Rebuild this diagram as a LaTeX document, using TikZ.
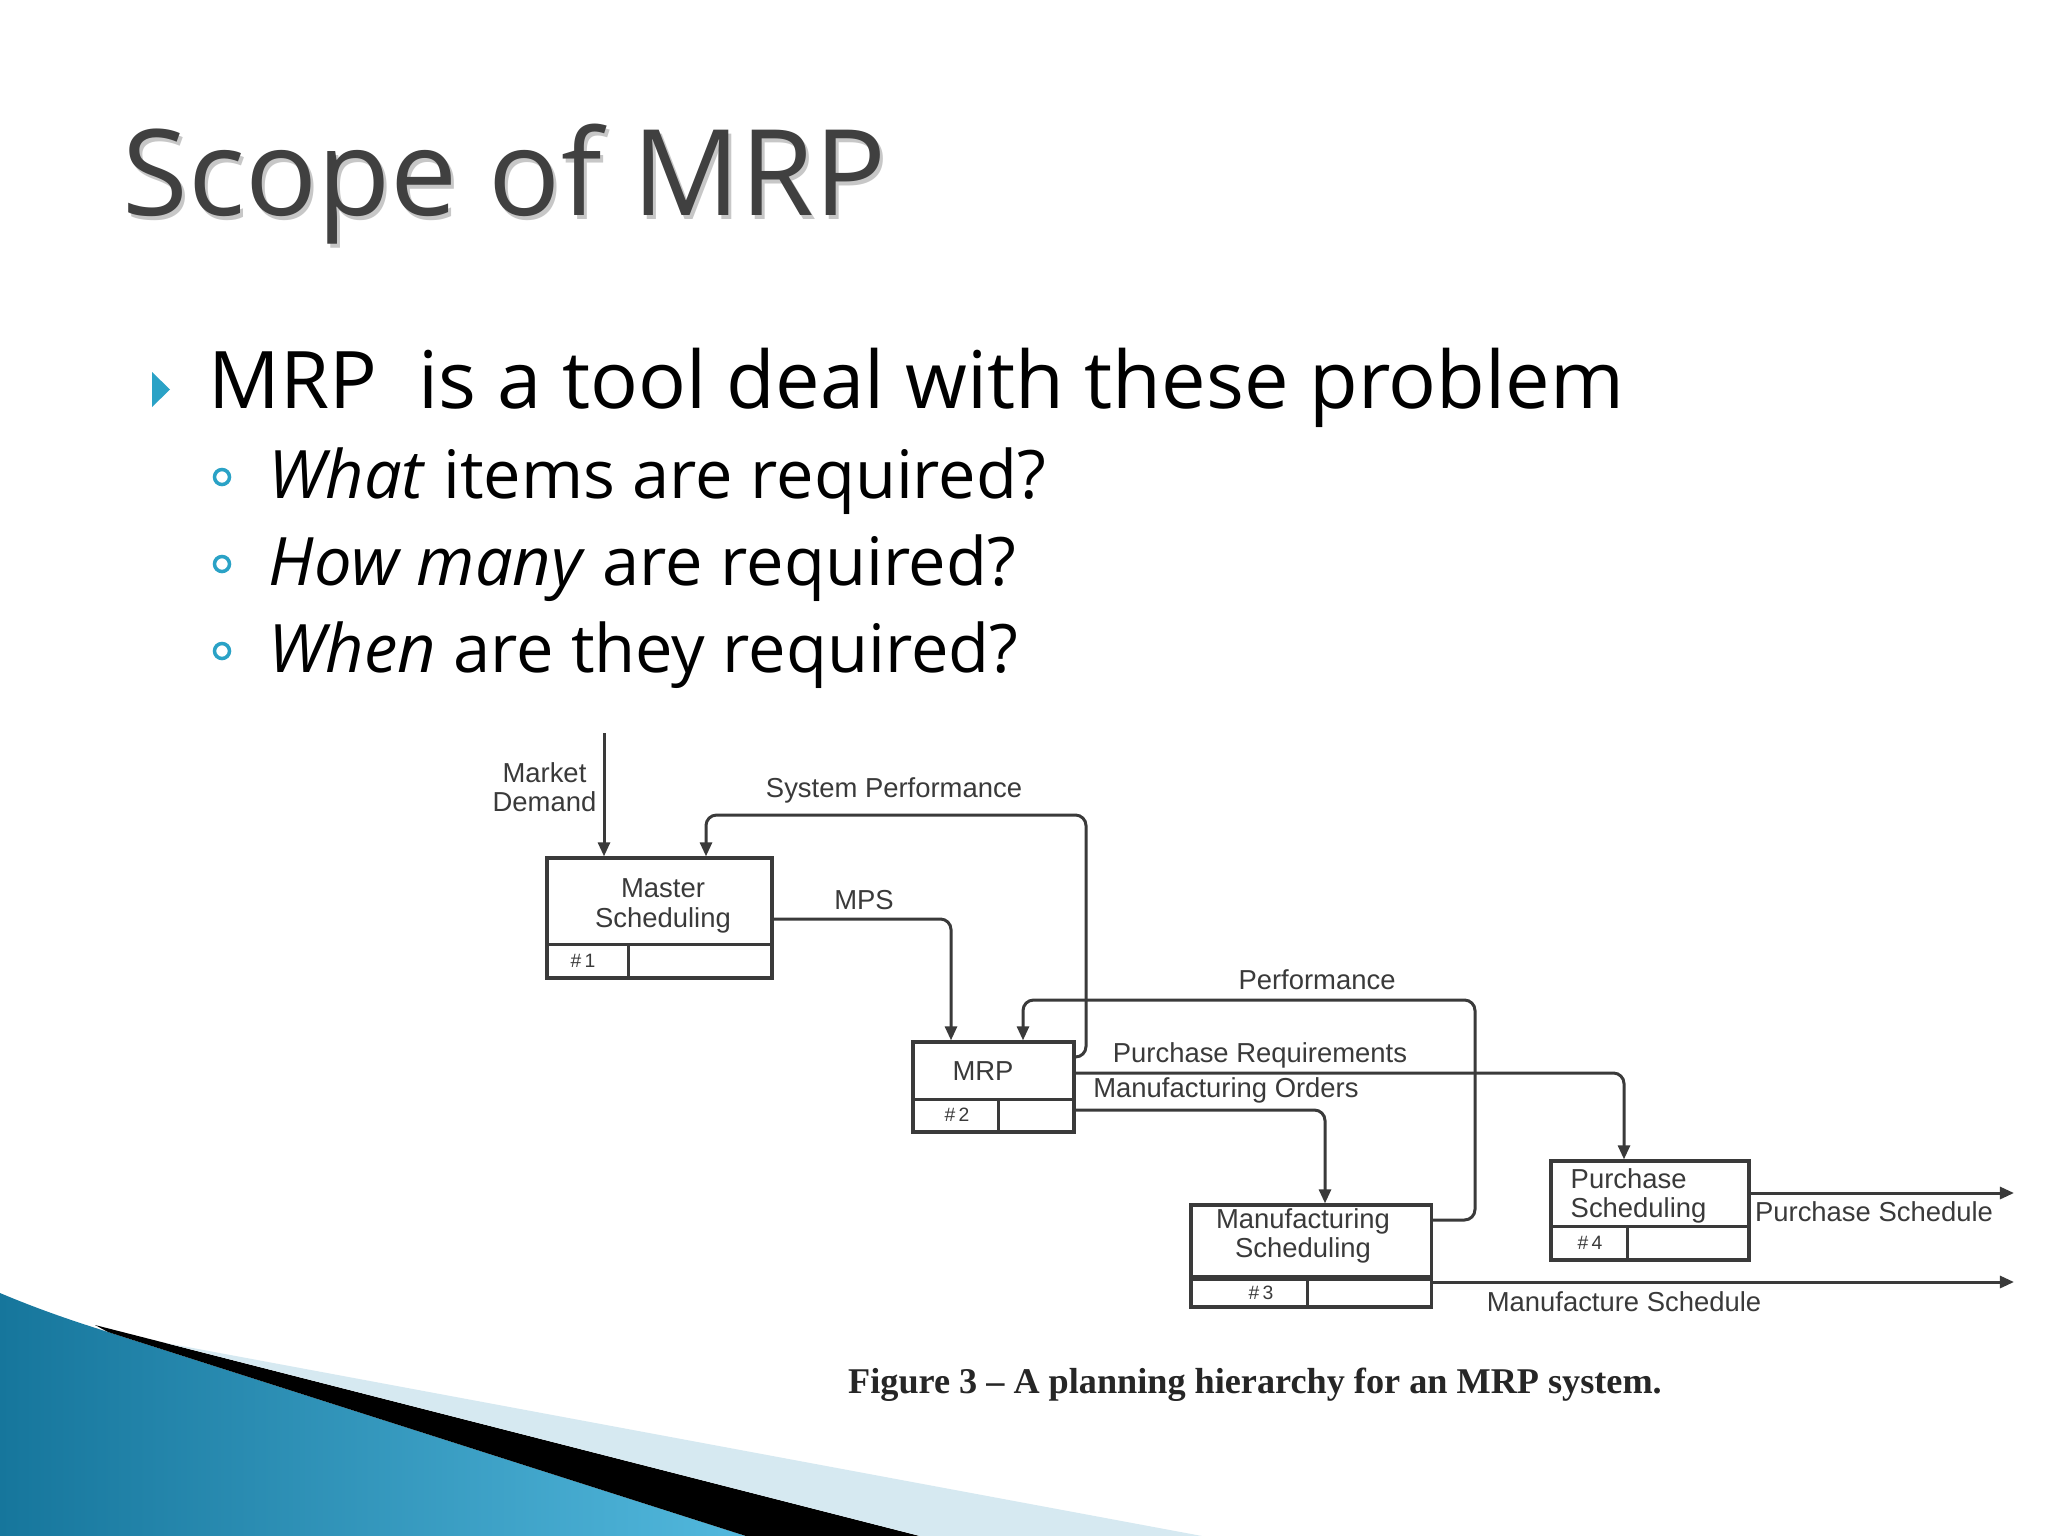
\documentclass[tikz,border=0pt]{standalone}
\usepackage{fontspec}
\setmainfont{Open Sans}
\newfontfamily\figfont{Liberation Sans}
\newfontfamily\capfont{Liberation Serif}
\usetikzlibrary{arrows.meta}
\definecolor{titlegray}{HTML}{404040}
\definecolor{bulletteal}{HTML}{2AA2C6}
\definecolor{linegray}{HTML}{3A3A3A}
\definecolor{tealdark}{HTML}{16769C}
\definecolor{teallight}{HTML}{52B8DD}
\definecolor{bandblue}{HTML}{D6E9F1}

\begin{document}
\begin{tikzpicture}[x=0.01cm,y=-0.01cm,
  box/.style={draw=linegray,line width=0.9pt,inner sep=0pt},
  lbl/.style={font=\figfont\fontsize{7.8}{8.4}\selectfont,text=linegray,inner sep=0pt},
  num/.style={font=\figfont\fontsize{5.5}{6}\selectfont,text=linegray,inner sep=0pt},
  flow/.style={draw=linegray,line width=0.85pt,rounded corners=3pt,-{Triangle[length=4pt,width=3.4pt]}},
  wire/.style={draw=linegray,line width=0.85pt}]
\useasboundingbox (0,0) rectangle (2048,1536);
\fill[white] (0,0) rectangle (2048,1536);

% corner decoration
\shade[left color=tealdark,right color=teallight] (0,1293) .. controls (45,1312) and (80,1323) .. (108,1332) -- (746,1536) -- (0,1536) -- cycle;
\fill[black] (95,1325) -- (920,1536) -- (746,1536) -- (108,1332) -- cycle;
\fill[bandblue] (166,1343) -- (1202,1536) -- (920,1536) -- cycle;

% title
\node[anchor=base west,inner sep=0pt,text=black!22,font=\fontsize{34}{40}\selectfont] at (125,219) {Scope of MRP};
\node[anchor=base west,inner sep=0pt,text=titlegray,font=\fontsize{34}{40}\selectfont] (title) at (122,215) {Scope of MRP};

% bullets
\fill[bulletteal] (152,372) -- (170,389.5) -- (152,407) -- cycle;
\node[anchor=base west,inner sep=0pt,font=\fontsize{22.6}{27}\selectfont] (main) at (208,408) {MRP\ \ is a tool deal with these problem};
\foreach \y/\txt [count=\i] in {498/{\textit{What} items are required?},585/{\textit{How many} are required?},672/{\textit{When} are they required?}}{
  \draw[bulletteal,line width=1pt] (222,\y-21) circle[radius=0.075cm];
  \node[anchor=base west,inner sep=0pt,font=\fontsize{19}{23}\selectfont] (q\i) at (268,\y) {\txt};
}

% boxes
\node[box,minimum width=2.25cm,minimum height=1.2cm] (ms) at (659.5,918) {};
\node[box,minimum width=1.61cm,minimum height=0.9cm] (mrp) at (993.5,1087) {};
\node[box,minimum width=2.4cm,minimum height=1.02cm] (mfs) at (1311,1256) {};
\node[box,minimum width=1.98cm,minimum height=0.99cm] (pus) at (1650,1210.5) {};
\foreach \b/\hy/\vx in {ms/944/628,mrp/1099/998,pus/1226/1627}{
  \draw[wire] (\b.west |- 0,\hy) -- (\b.east |- 0,\hy);
  \draw[wire] (\vx,\hy) -- (\b.south -| \vx,0);
}
\draw[draw=linegray,line width=1.5pt] (mfs.west |- 0,1278) -- (mfs.east |- 0,1278);
\draw[wire] (1307,1278) -- (mfs.south -| 1307,0);

\node[lbl,align=center] (mstxt) at (663,906) {Master\\Scheduling};
\node[lbl] (mrptxt) at (983,1071) {MRP};
\node[lbl,align=center] (mfstxt) at (1303,1236) {Manufacturing\\Scheduling};
\node[lbl,align=left,anchor=west] (pustxt) at (1570,1196) {Purchase\\Scheduling};
\node[num] (n1) at (583,961) {\#\,1};
\node[num] (n2) at (957,1115) {\#\,2};
\node[num] (n3) at (1261,1293) {\#\,3};
\node[num] (n4) at (1590,1243) {\#\,4};

% connectors
\coordinate (mdtop) at (604,733);
\draw[flow] (mdtop) -- (mdtop |- ms.north);
\node[lbl,align=center,anchor=east] (mdlbl) at (597,787) {Market\\Demand};

\coordinate (sp1) at (1086,815);
\coordinate (sp2) at (706,815);
\draw[flow] (mrp.east |- 0,1057) -| (sp1) -- (sp2) -- (sp2 |- ms.north);
\node[lbl] (splbl) at (894,790) {System Performance};

\draw[flow] (ms.east |- 0,919) -| (mrp.north -| 951,0);
\node[lbl] (mpslbl) at (864,900) {MPS};

\draw[flow] (mfs.east |- 0,1220) -| (1475,1000) -| (mrp.north -| 1023,0);
\node[lbl] (perflbl) at (1317,980) {Performance};

\draw[flow] (mrp.east |- 0,1073) -| (pus.north -| 1624,0);
\node[lbl] (prlbl) at (1260,1055) {Purchase Requirements};

\draw[flow] (mrp.east |- 0,1110) -| (mfs.north -| 1325,0);
\node[lbl] (molbl) at (1226,1090) {Manufacturing Orders};

\coordinate (psend) at (2014,1193);
\draw[flow] (pus.east |- psend) -- (psend);
\node[lbl] (pslbl) at (1874,1212) {Purchase Schedule};

\coordinate (msend) at (2014,1282);
\draw[flow] (mfs.east |- msend) -- (msend);
\node[lbl] (mslbl) at (1624,1302) {Manufacture Schedule};

\node[anchor=base,inner sep=0pt,text=black!85,font=\capfont\bfseries\fontsize{10.3}{12}\selectfont] (caption) at (1255,1393) {Figure 3 – A planning hierarchy for an MRP system.};
\end{tikzpicture}
\end{document}
